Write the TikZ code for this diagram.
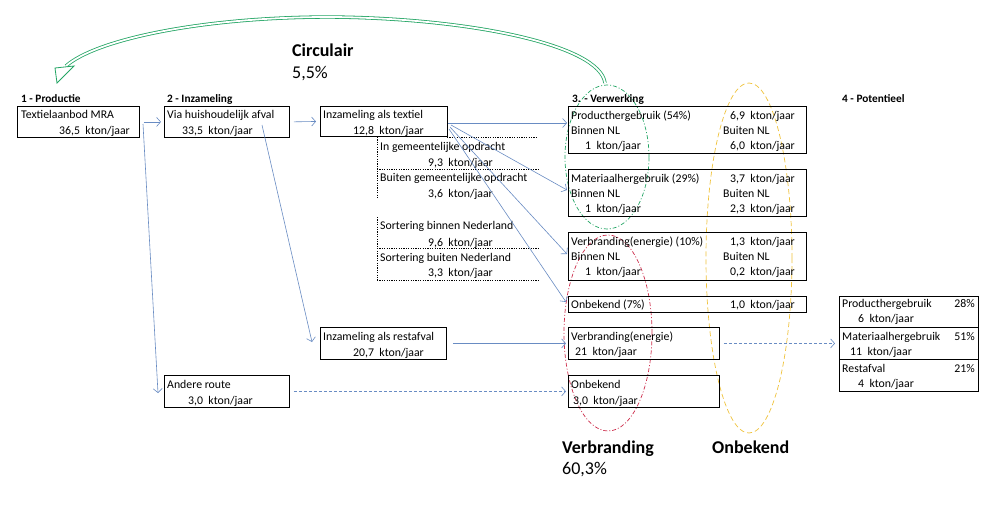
\documentclass[tikz,border=0pt]{standalone}
\usepackage{fontspec}
\setmainfont{Carlito}
\usetikzlibrary{arrows.meta}
\definecolor{flow}{RGB}{105,140,195}
\definecolor{circ}{RGB}{35,165,100}
\definecolor{redell}{RGB}{205,45,75}
\definecolor{yell}{RGB}{240,195,60}
\tikzset{
 box/.style={draw=black, line width=0.8pt, inner sep=0pt, anchor=north west},
 t/.style={anchor=base west, inner sep=0pt, font=\fontsize{11.8}{13}\selectfont},
 tr/.style={anchor=base east, inner sep=0pt, font=\fontsize{11.8}{13}\selectfont},
 hd/.style={anchor=base west, inner sep=0pt, font=\fontsize{11.3}{13}\selectfont\bfseries},
 big/.style={anchor=base west, inner sep=0pt, font=\fontsize{18}{20}\selectfont\bfseries},
 bign/.style={anchor=base west, inner sep=0pt, font=\fontsize{18}{20}\selectfont},
 flowarrow/.style={draw=flow, line width=0.6pt, -{Straight Barb[length=4pt,width=9pt]}},
 flowdash/.style={flowarrow, dash pattern=on 3pt off 2pt},
 dots/.style={draw=black, line width=0.8pt, dash pattern=on 1.2pt off 1.2pt},
}
\begin{document}
\begin{tikzpicture}[x=1pt,y=-1pt]
\useasboundingbox[fill=white] (0,0) rectangle (988,514);

% ellipses
\draw[draw=circ, line width=0.7pt, dash pattern=on 4pt off 2pt on 1pt off 2pt] (607,157) ellipse [x radius=42pt, y radius=72pt];
\draw[draw=redell, line width=0.7pt, dash pattern=on 4pt off 2pt on 1pt off 2pt] (608,333) ellipse [x radius=44pt, y radius=98pt];
\draw[draw=yell, line width=0.7pt, dash pattern=on 5pt off 3pt] (749,258) ellipse [x radius=43pt, y radius=175pt];

% circular arrow
\draw[circ, line width=0.8pt, double=white, double distance=1.8pt] (605,83) .. controls (600,45) and (470,18) .. (330,17) .. controls (200,17) and (95,40) .. (66,66);
\draw[circ, line width=0.8pt, fill=white, line join=miter] (55,68) -- (57,83) -- (74,66) -- cycle;

% titles
\node[hd] (h1) at (21,102) {1 - Productie};
\node[hd] (h2) at (167,102) {2 - Inzameling};
\node[hd] (h3) at (572,102) {3. - Verwerking};
\node[hd] (h4) at (842,102) {4 - Potentieel};
\node[big] (circt) at (292,56) {Circulair};
\node[bign] (circn) at (292,78) {5,5\%};
\node[big] (verbt) at (562,453) {Verbranding};
\node[bign] (verbn) at (562,474) {60,3\%};
\node[big] (onbt) at (712,453) {Onbekend};

% boxes
\node[box, minimum width=122pt, minimum height=31pt] (b1) at (17,106) {};
\node[box, minimum width=125pt, minimum height=31pt] (b2) at (164,106) {};
\node[box, minimum width=127pt, minimum height=30pt] (b3) at (320,106) {};
\node[box, minimum width=126pt, minimum height=32pt] (bR) at (320,327) {};
\node[box, minimum width=125pt, minimum height=32pt] (bA) at (164,375) {};
\node[box, minimum width=238pt, minimum height=47pt] (pP) at (568,106) {};
\node[box, minimum width=238pt, minimum height=47pt] (pM) at (568,169) {};
\node[box, minimum width=238pt, minimum height=48pt] (pV) at (568,232) {};
\node[box, minimum width=238pt, minimum height=16pt] (pO) at (568,296) {};
\node[box, minimum width=151pt, minimum height=32pt] (pVR) at (568,327) {};
\node[box, minimum width=151pt, minimum height=32pt] (pOR) at (568,375) {};
\node[box, minimum width=139pt, minimum height=31pt] (qa) at (839,296) {};
\node[box, minimum width=139pt, minimum height=32pt] (qb) at (839,327) {};
\node[box, minimum width=139pt, minimum height=32pt] (qc) at (839,359) {};

% dotted sub-area
\draw[dots] (447,137) -- (538,137);
\draw[dots] (377,137) -- (377,199);
\draw[dots] (377,169) -- (538,169);
\draw[dots] (377,217) -- (377,280);
\draw[dots] (377,248) -- (538,248);
\draw[dots] (377,280) -- (538,280);

% texts
\node[t] (x1a) at (21,118) {Textielaanbod MRA};
\node[tr] (x1b) at (130,134) {36,5\ \ kton/jaar};
\node[t] (x2a) at (167,118) {Via huishoudelijk afval};
\node[tr] (x2b) at (253,134) {33,5\ \ kton/jaar};
\node[t] (x3a) at (323,118) {Inzameling als textiel};
\node[tr] (x3b) at (424,134) {12,8\ \ kton/jaar};
\node[t] (d1a) at (380,150) {In gemeentelijke opdracht};
\node[tr] (d1b) at (493,166) {9,3\ \ kton/jaar};
\node[t] (d2a) at (380,181) {Buiten gemeentelijke opdracht};
\node[tr] (d2b) at (493,197) {3,6\ \ kton/jaar};
\node[t] (d3a) at (380,229) {Sortering binnen Nederland};
\node[tr] (d3b) at (493,246) {9,6\ \ kton/jaar};
\node[t] (d4a) at (380,261) {Sortering buiten Nederland};
\node[tr] (d4b) at (493,276) {3,3\ \ kton/jaar};
\node[t] (xRa) at (323,340) {Inzameling als restafval};
\node[tr] (xRb) at (424,356) {20,7\ \ kton/jaar};
\node[t] (xAa) at (167,388) {Andere route};
\node[tr] (xAb) at (253,404) {3,0\ \ kton/jaar};

\node[t] (pP1) at (571,119) {Producthergebruik (54\%)};
\node[tr] (pP2) at (795,119) {6,9\ \ kton/jaar};
\node[t] (pP3) at (571,134.5) {Binnen NL};
\node[t] (pP4) at (723,134.5) {Buiten NL};
\node[t] (pP5) at (585,149.5) {1\ \ kton/jaar};
\node[tr] (pP6) at (795,149.5) {6,0\ \ kton/jaar};

\node[t] (pM1) at (571,182) {Materiaalhergebruik (29\%)};
\node[tr] (pM2) at (795,182) {3,7\ \ kton/jaar};
\node[t] (pM3) at (571,197.5) {Binnen NL};
\node[t] (pM4) at (723,197.5) {Buiten NL};
\node[t] (pM5) at (585,212.5) {1\ \ kton/jaar};
\node[tr] (pM6) at (795,212.5) {2,3\ \ kton/jaar};

\node[t] (pV1) at (571,245) {Verbranding(energie) (10\%)};
\node[tr] (pV2) at (795,245) {1,3\ \ kton/jaar};
\node[t] (pV3) at (571,260.5) {Binnen NL};
\node[t] (pV4) at (723,260.5) {Buiten NL};
\node[t] (pV5) at (585,275.5) {1\ \ kton/jaar};
\node[tr] (pV6) at (795,275.5) {0,2\ \ kton/jaar};

\node[t] (pO1) at (571,308) {Onbekend (7\%)};
\node[tr] (pO2) at (795,308) {1,0\ \ kton/jaar};

\node[t] (pVR1) at (571,340) {Verbranding(energie)};
\node[t] (pVR2) at (575,355) {21\ \ kton/jaar};
\node[t] (pOR1) at (571,388) {Onbekend};
\node[t] (pOR2) at (573,404) {3,0\ \ kton/jaar};

\node[t] (qa1) at (842,307) {Producthergebruik};
\node[tr] (qa2) at (975,307) {28\%};
\node[t] (qa3) at (858,322) {6\ \ kton/jaar};
\node[t] (qb1) at (842,340) {Materiaalhergebruik};
\node[tr] (qb2) at (975,340) {51\%};
\node[t] (qb3) at (850,355) {11\ \ kton/jaar};
\node[t] (qc1) at (842,372) {Restafval};
\node[tr] (qc2) at (975,372) {21\%};
\node[t] (qc3) at (858,387) {4\ \ kton/jaar};

% connector coordinates
\coordinate (s1) at (143,124);
\coordinate (e1) at (158,393);
\coordinate (s2) at (262,125);
\coordinate (e2) at (312,342);
\coordinate (f0) at (448,123);
\coordinate (g0) at (567,123);
\coordinate (f1) at (451,125);
\coordinate (g1) at (567,190);
\coordinate (f2) at (450,127);
\coordinate (g2) at (567,254);
\coordinate (f3) at (449,129);
\coordinate (g3) at (566,302);

% connectors
\draw[flowarrow, shorten <=4pt, shorten >=3pt] (b1.east) -- (b2.west);
\draw[flowarrow, shorten <=4pt, shorten >=4pt] (b2.east) -- (b3.west);
\draw[flowarrow] (s1) -- (e1);
\draw[flowarrow] (s2) -- (e2);
\draw[flowarrow] (f0) -- (g0);
\draw[flowarrow] (f1) -- (g1);
\draw[flowarrow] (f2) -- (g2);
\draw[flowarrow] (f3) -- (g3);
\draw[flowarrow, shorten <=6pt, shorten >=2pt] (bR.east) -- (pVR.west);
\draw[flowdash, shorten <=4pt, shorten >=2pt] (bA.east) -- (pOR.west);
\draw[flowdash, shorten <=4pt, shorten >=4pt] (pVR.east) -- (qb.west);
\end{tikzpicture}
\end{document}
